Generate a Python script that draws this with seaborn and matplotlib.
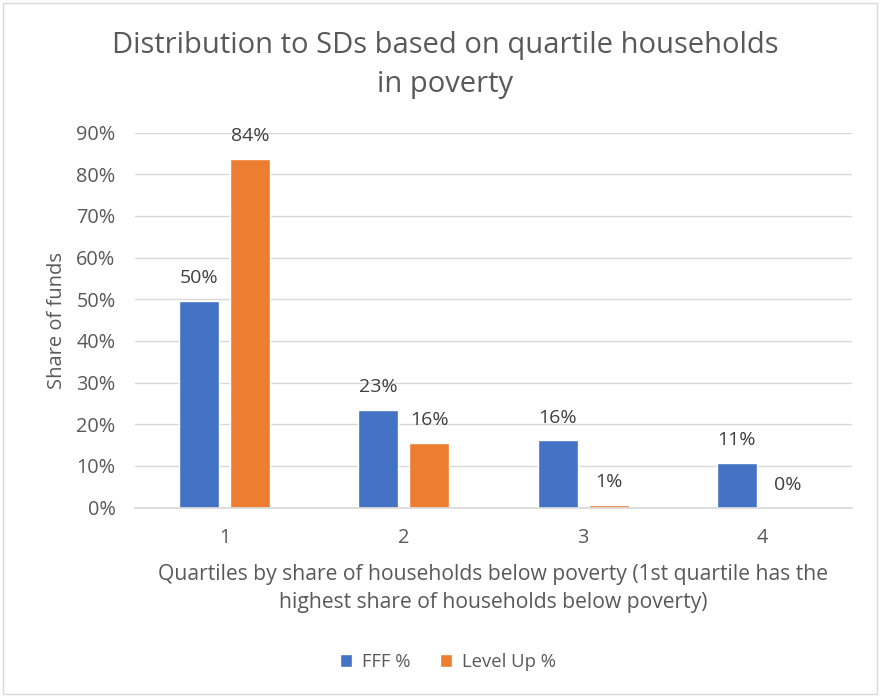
import matplotlib
matplotlib.use("Agg")
import matplotlib.pyplot as plt
import pandas as pd
import seaborn as sns
from matplotlib.patches import Rectangle
from matplotlib.ticker import PercentFormatter

# Daten
quartile = ["1", "2", "3", "4"]
fff = [0.496, 0.234, 0.161, 0.106]
level_up = [0.837, 0.156, 0.006, 0.0]
serien = ["FFF %", "Level Up %"]

df = pd.DataFrame({
    "Quartil": quartile * 2,
    "Anteil": fff + level_up,
    "Serie": [serien[0]] * 4 + [serien[1]] * 4,
})

sns.set_theme(style="white")
plt.rcParams["font.family"] = ["Open Sans", "DejaVu Sans"]
grau = "#595959"

fig = plt.figure(figsize=(8.81, 6.98), dpi=100)
ax = fig.add_axes([135 / 881, 1 - 507.5 / 698, 717 / 881, 374.8 / 698])

sns.barplot(data=df, x="Quartil", y="Anteil", hue="Serie", order=quartile,
            palette=["#4472C4", "#ED7D31"], width=0.57, gap=0.22,
            saturation=1, legend=True, ax=ax)

for cont in ax.containers:
    ax.bar_label(cont, labels=[f"{b.get_height():.0%}" for b in cont],
                 padding=10, fontsize=14, color="#404040")

ax.set_ylim(0, 0.9)
ax.set_yticks([i / 10 for i in range(10)])
ax.yaxis.set_major_formatter(PercentFormatter(1.0, decimals=0))
ax.grid(axis="y", color="#D9D9D9", linewidth=1)
ax.set_axisbelow(True)
for s in ["top", "right", "left"]:
    ax.spines[s].set_visible(False)
ax.spines["bottom"].set_color("#D9D9D9")
ax.tick_params(axis="both", length=0, labelsize=14.3, labelcolor=grau)
ax.tick_params(axis="x", pad=15)
ax.tick_params(axis="y", pad=14)

ax.set_xlabel("Quartiles by share of households below poverty (1st quartile has the\n"
              "highest share of households below poverty)",
              fontsize=15.2, color=grau, labelpad=11, linespacing=1.45)
ax.set_ylabel("Share of funds", fontsize=14.5, color=grau, labelpad=7)

fig.text(445 / 881, 1 - 65 / 698,
         "Distribution to SDs based on quartile households\nin poverty",
         ha="center", va="center", fontsize=21, color=grau, linespacing=1.45)

handles, labels = ax.get_legend_handles_labels()
ax.legend_.remove()
fig.legend(handles, labels, loc="center", bbox_to_anchor=(448 / 881, 1 - 662 / 698),
           ncol=2, frameon=False, fontsize=13.3, labelcolor=grau,
           handlelength=0.65, handleheight=0.65, handletextpad=0.55, columnspacing=1.6)

fig.patches.append(Rectangle((3 / 881, 4 / 698), 874 / 881, 691 / 698,
                             transform=fig.transFigure, fill=False,
                             edgecolor="#D9D9D9", linewidth=1))

fig.savefig("out.png", dpi=100, facecolor="white")
